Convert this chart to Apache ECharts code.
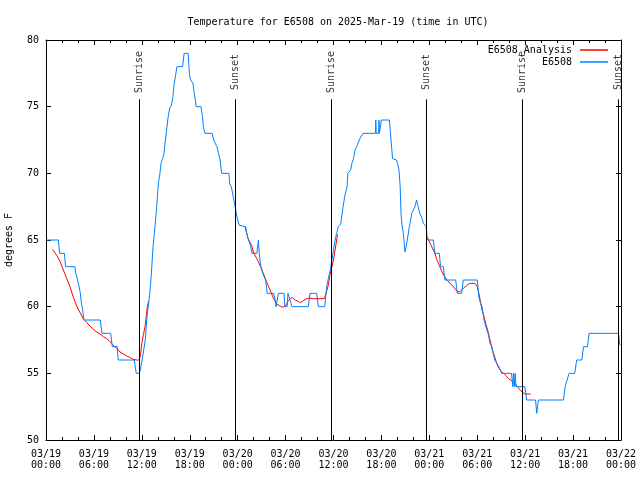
<!DOCTYPE html>
<html><head><meta charset="utf-8">
<script src="https://cdn.jsdelivr.net/npm/echarts@6/dist/echarts.min.js"></script>
<style>html,body{margin:0;padding:0;background:#fff}#c{width:640px;height:480px}</style>
</head><body><div id="c"></div>
<script>
const titleText = 'Temperature for E6508 on 2025-Mar-19 (time in UTC)';
const startUTC = Date.UTC(2025, 2, 19, 0, 0);
const HOUR = 3600000;

// Observed E6508 (hours since 03/19 00:00 UTC, degrees F)
const obsHours = [0,1.55,1.7,2.3,2.45,3.6,3.75,3.95,4.15,4.3,4.45,4.6,4.75,6.8,7.0,8.1,8.3,8.9,9.05,11.05,11.3,11.7,11.95,12.2,12.45,12.6,12.8,13.0,13.2,13.4,13.65,13.86,14.07,14.27,14.4,14.6,14.78,14.95,15.1,15.3,15.5,15.7,15.9,16.0,16.2,16.4,17.1,17.3,17.8,17.95,18.1,18.4,18.5,18.7,18.8,19.4,19.6,19.7,19.9,20.8,21.0,21.4,21.6,21.8,22.0,22.9,23.0,23.2,23.4,23.6,23.8,23.96,24.2,24.3,25.0,25.1,25.3,25.6,25.8,26.4,26.6,26.7,26.9,27.1,27.3,27.5,27.7,28.5,28.7,28.8,29.0,29.1,29.8,29.9,30.2,30.3,30.55,30.8,32.85,33.05,33.9,34.1,34.9,35.15,35.35,35.6,35.8,36.0,36.2,36.4,36.6,36.9,37.2,37.4,37.7,37.8,38.15,38.3,38.5,38.7,38.9,39.1,39.3,39.5,39.7,41.25,41.3,41.35,41.65,41.7,41.75,41.9,42.0,43.0,43.2,43.4,43.9,44.0,44.2,44.35,44.45,44.6,44.75,44.95,45.1,45.3,45.5,45.6,45.8,46.0,46.2,46.4,46.6,46.8,47.1,47.25,47.6,47.75,48.5,48.7,49.25,49.4,49.75,49.95,51.3,51.5,52.05,52.25,54.0,54.2,54.4,54.6,54.85,55.05,55.2,55.4,55.6,55.8,56.0,56.2,56.45,56.7,57.06,58.3,58.45,58.55,58.65,58.75,58.85,59.95,60.2,61.3,61.45,61.55,61.65,64.8,65.0,65.2,65.5,66.2,66.45,67.1,67.3,67.8,68.0,71.7,71.85];
const obsTemps = [65,65,64,64,63,63,62.5,62,61.5,61,60.2,59.7,59,59,58,58,57,57,56,56,55,55,55.7,56.6,57.6,59,60,61,62.5,64.5,66,67.5,69.25,70,70.75,71.1,71.5,72.5,73.25,74.25,74.9,75.1,75.75,76.5,77.25,78,78,79,79,77.5,77,76.75,76.25,75.5,75,75,74.25,73.5,73,73,72.5,72,71.5,71,70,70,69.2,69,68.4,67.75,67.1,66.6,66.1,66,66,65.6,65.1,64.6,64,64,65,64,63,62.6,62.25,62,61,61,60.5,60,60,61,61,60,60,61,61,60,60,61,61,60,60,61.5,62.1,62.75,63.5,64.25,65,65.5,66,66.2,67.5,68.25,69,70,70.25,70.75,71.1,71.75,72,72.1,72.6,72.75,73,73,74,73,73,74,73,73,74,74,72.5,71.1,71,70.75,70.25,69,67,66,65.5,64.1,64.5,65.25,66,66.25,67,67.1,67.5,68,67.5,67,66.6,66.25,66,65,65,64,64,63,63,62,62,61,61,62,62,60.75,60.25,60,59,59,58.25,57.9,57.25,57,56.5,56,56,55.5,55,55,54,55,54,55,54,54,53,53,52,52,53,53,54,54,55,55,56,56,57,57,58,58,57.1];

// E6508 Analysis (null = gap)
const anaHours = [0.8,1.3,1.75,2.17,2.6,3.0,3.4,3.84,4.26,4.67,5.1,5.5,5.9,6.35,6.76,7.2,7.6,8.0,8.4,8.85,9.27,9.7,10.1,10.5,10.9,11.35,11.7,11.85,12.0,12.2,12.4,12.6,12.7,12.86,18.0,24.9,25.3,25.75,25.96,26.4,26.8,27.2,27.6,28.05,28.5,28.9,29.3,29.7,30.05,30.3,30.8,31.2,31.6,31.9,32.2,32.65,33.05,33.5,34.3,34.85,35.06,35.35,35.56,35.8,36.0,36.2,36.4,36.5,42.0,47.7,48.7,48.9,49.3,49.75,50.2,50.6,51.0,51.4,51.75,52.05,52.5,52.9,53.3,53.7,54.0,54.2,54.4,54.6,54.85,55.05,55.3,55.5,55.7,55.9,56.1,56.3,56.6,57.06,57.5,57.9,58.3,58.7,59.15,59.6,60.0,60.7];
const anaTemps = [64.3,63.9,63.4,62.75,62.1,61.5,60.75,60.05,59.55,59.1,58.8,58.55,58.3,58.1,57.95,57.75,57.6,57.4,57.1,56.9,56.6,56.45,56.3,56.2,56.05,56.0,56.0,56.5,57.25,57.9,58.5,59.5,60.1,60.4,null,66.05,65.1,64.6,64.1,63.6,63.1,62.5,61.9,61.25,60.6,60.2,60.05,59.95,60.1,60.4,60.7,60.5,60.4,60.3,60.45,60.6,60.65,60.6,60.6,60.6,61,61.6,62.4,63,63.5,64.25,65,65.4,null,65.25,64,63.6,63,62.4,62,61.75,61.5,61.2,61.1,61.25,61.5,61.7,61.75,61.75,61.5,61,60.4,59.75,59.25,58.75,58.25,57.75,57.25,56.75,56.4,56,55.5,55.1,54.9,54.6,54.45,54.25,53.9,53.6,53.45,53.45];

// Sun events
const sunHours = [11.69, 23.75, 35.73, 47.6, 59.65, 71.67];
const sunLabels = ['Sunrise','Sunset','Sunrise','Sunset','Sunrise','Sunset'];

const yTicks = [50,55,60,65,70,75,80];
const seriesNames = ['E6508_Analysis','E6508'];

const sunLineTop = 75.55;
const sunLabelY = 77.6;

const toT = h => startUTC + h * HOUR;
const obsData = obsHours.map((h,i) => [toT(h), obsTemps[i]]);
const anaData = anaHours.map((h,i) => [toT(h), anaTemps[i]]);

const FONT = 'DejaVu Sans Mono';
const pad = n => (n < 10 ? '0' : '') + n;
const fmtX = v => { const d = new Date(v); return pad(d.getUTCMonth()+1) + '/' + pad(d.getUTCDate()) + '\n' + pad(d.getUTCHours()) + ':' + pad(d.getUTCMinutes()); };

const xBase = {
  type: 'value', min: toT(0), max: toT(72), interval: 6*HOUR,
  axisLine: {show: true, lineStyle: {color: '#000', width: 1}},
  axisTick: {show: true, inside: true, length: 5, lineStyle: {color: '#000'}},
  minorTick: {show: true, splitNumber: 3, length: 3, lineStyle: {color: '#000'}},
  splitLine: {show: false}, minorSplitLine: {show: false}
};
const yBase = {
  type: 'value', min: yTicks[0], max: yTicks[yTicks.length-1], interval: 5,
  axisLine: {show: true, lineStyle: {color: '#000', width: 1}},
  axisTick: {show: true, inside: true, length: 5, lineStyle: {color: '#000'}},
  splitLine: {show: false}
};

const chart = echarts.init(document.getElementById('c'), null, {renderer: 'canvas'});
chart.setOption({
  animation: false,
  backgroundColor: '#fff',
  textStyle: {fontFamily: FONT},
  title: {text: titleText, left: 333, top: 12, textAlign: 'center',
    textStyle: {fontFamily: FONT, fontSize: 10, fontWeight: 'normal', color: '#000'}},
  grid: {left: 46, right: 19, top: 40, bottom: 40, containLabel: false, outerBoundsMode: 'none'},
  legend: {
    data: seriesNames, orient: 'vertical', right: 27, top: 39, align: 'right',
    icon: 'rect', itemWidth: 28, itemHeight: 1.5, itemGap: 0,
    textStyle: {fontFamily: FONT, fontSize: 10, color: '#000', lineHeight: 12, padding: [0, 3, 0, 0]}
  },
  xAxis: [
    Object.assign({}, xBase, {position: 'bottom',
      axisLabel: {show: true, formatter: fmtX, fontFamily: FONT, fontSize: 10, color: '#000', margin: 9, lineHeight: 11}}),
    Object.assign({}, xBase, {position: 'top', axisLabel: {show: false}})
  ],
  yAxis: [
    Object.assign({}, yBase, {position: 'left', name: 'degrees F', nameLocation: 'middle', nameGap: 32,
      nameTextStyle: {fontFamily: FONT, fontSize: 10, color: '#000'},
      axisLabel: {show: true, fontFamily: FONT, fontSize: 10, color: '#000', margin: 7}}),
    Object.assign({}, yBase, {position: 'right', axisLabel: {show: false}})
  ],
  series: [
    {name: seriesNames[0], type: 'line', data: anaData, showSymbol: false, symbol: 'none',
      connectNulls: false, color: '#ff0000', lineStyle: {color: '#ff0000', width: 1}, z: 3},
    {name: seriesNames[1], type: 'line', data: obsData, showSymbol: false, symbol: 'none',
      color: '#0080ff', lineStyle: {color: '#0080ff', width: 1}, z: 4},
    {name: 'sun', type: 'scatter', symbolSize: 0, silent: true, z: 5,
      data: sunHours.map((h,i) => ({value: [toT(h), sunLabelY], label: {formatter: sunLabels[i]}})),
      label: {show: true, position: 'inside', rotate: 90, fontFamily: FONT, fontSize: 10, color: '#000'},
      markLine: {silent: true, symbol: ['none','none'], animation: false,
        label: {show: false},
        lineStyle: {color: '#000', width: 1, type: 'solid'},
        data: sunHours.map(h => [{coord: [toT(h), yTicks[0]]}, {coord: [toT(h), sunLineTop]}])
      }
    }
  ]
});
</script></body></html>
